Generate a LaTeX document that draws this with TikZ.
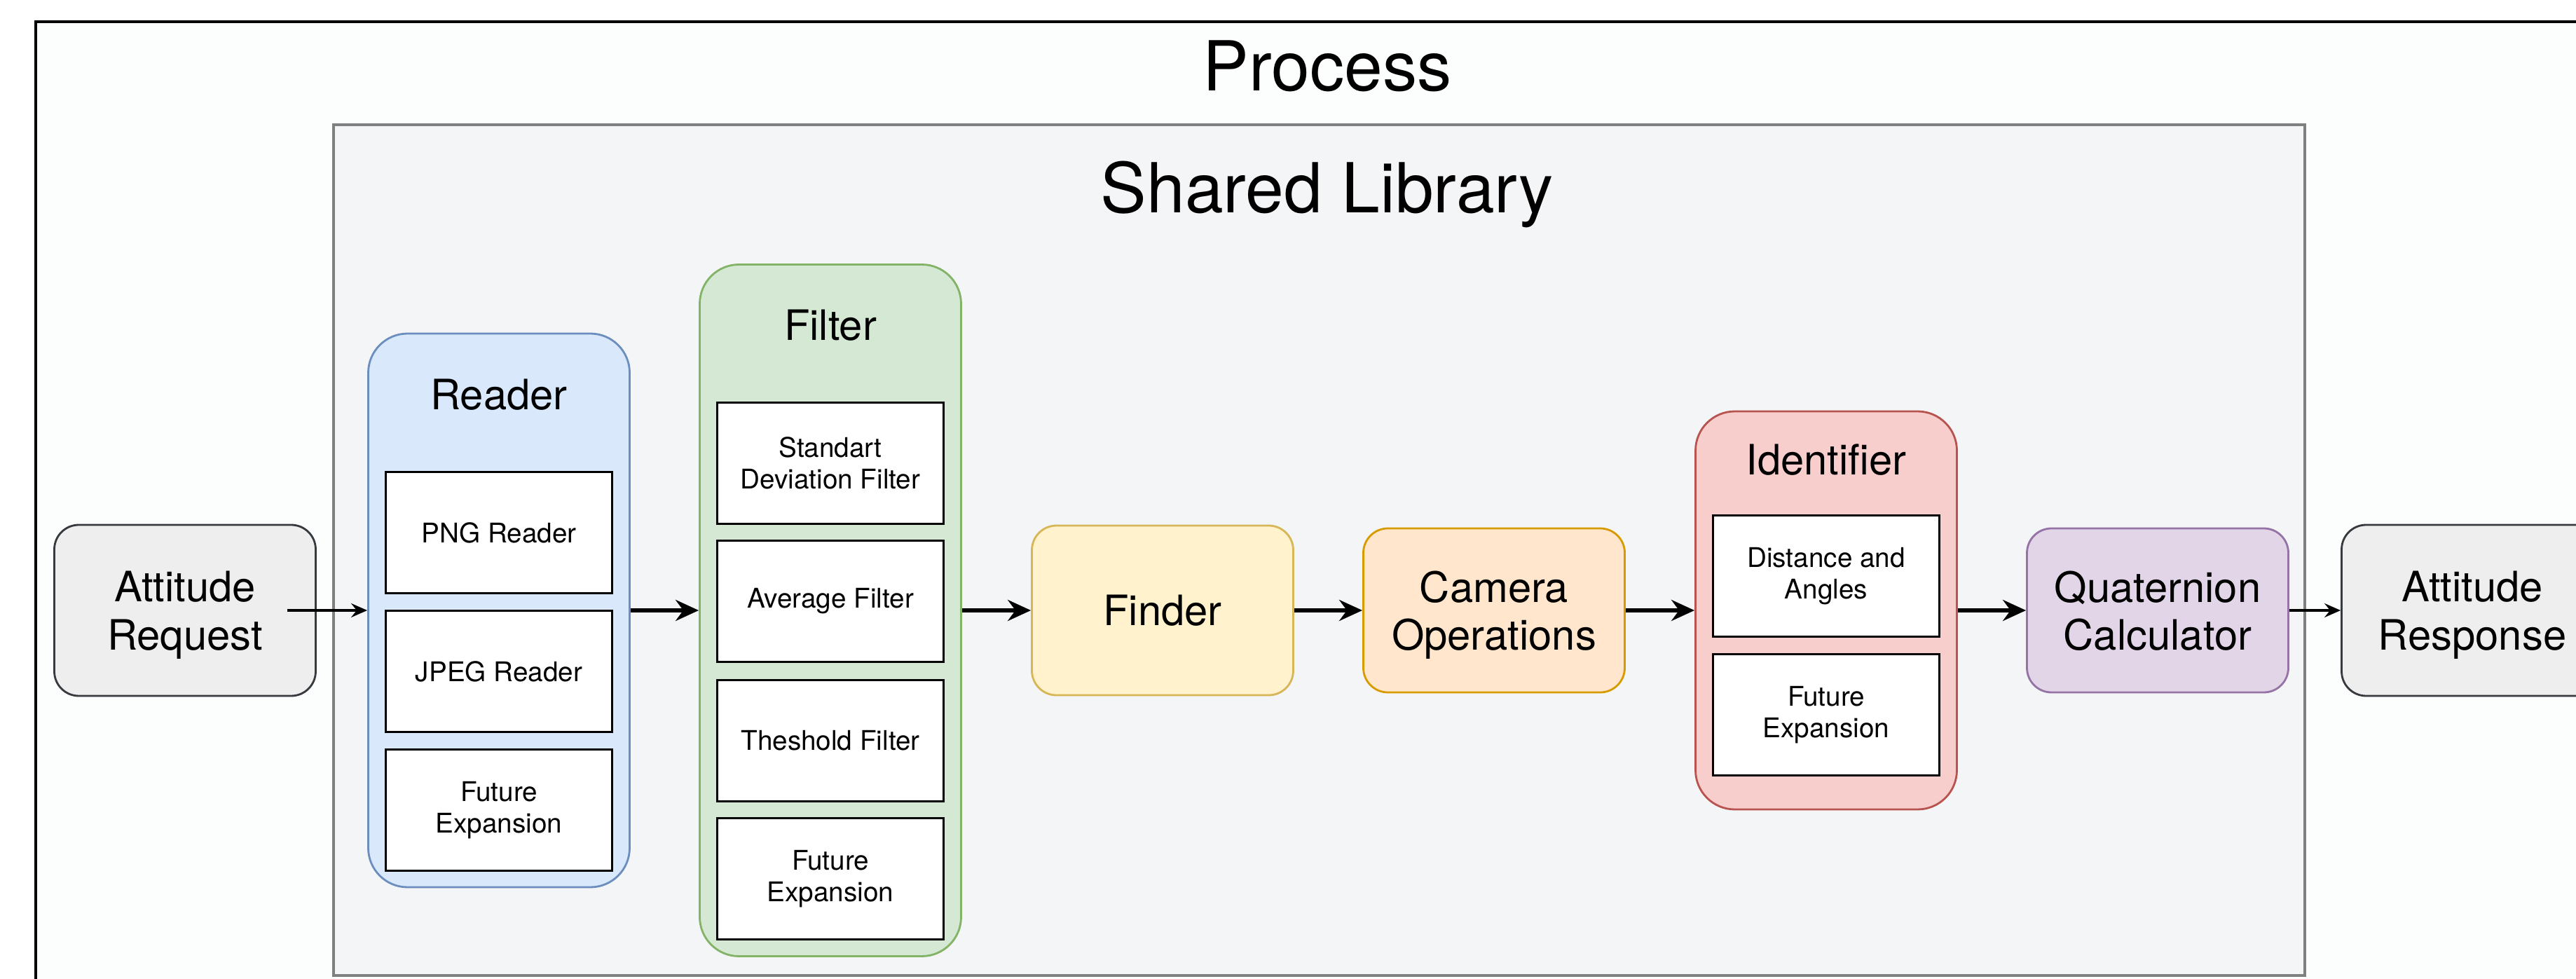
\documentclass[tikz,border=0pt]{standalone}
\usepackage{fontspec}
\setmainfont{TeX Gyre Heros}
\usetikzlibrary{arrows.meta}

\definecolor{procfill}{HTML}{FCFDFD}
\definecolor{libfill}{HTML}{F4F5F6}
\definecolor{libdraw}{HTML}{7F7F7F}
\definecolor{iofill}{HTML}{EEEEEE}
\definecolor{iodraw}{HTML}{36393D}
\definecolor{readfill}{HTML}{DAE8FC}
\definecolor{readdraw}{HTML}{6C8EBF}
\definecolor{filtfill}{HTML}{D5E8D4}
\definecolor{filtdraw}{HTML}{82B366}
\definecolor{findfill}{HTML}{FFF2CC}
\definecolor{finddraw}{HTML}{D6B656}
\definecolor{camfill}{HTML}{FFE6CC}
\definecolor{camdraw}{HTML}{D79B00}
\definecolor{idfill}{HTML}{F8CECC}
\definecolor{iddraw}{HTML}{B85450}
\definecolor{quatfill}{HTML}{E1D5E7}
\definecolor{quatdraw}{HTML}{9673A6}

\begin{document}
\begin{tikzpicture}[
  stage/.style={rectangle, rounded corners=3.5mm, draw, line width=0.8pt, minimum width=3.73cm, minimum height=2.4cm, align=center, text depth=0pt, font=\fontsize{17}{19.5}\selectfont},
  group/.style={rectangle, rounded corners=5.6mm, draw, line width=0.8pt, minimum width=3.73cm},
  part/.style={rectangle, draw=black, fill=white, line width=0.9pt, minimum width=3.23cm, minimum height=1.73cm, align=center, font=\fontsize{11}{13}\selectfont},
  gtitle/.style={font=\fontsize{17}{19.5}\selectfont},
  bigtitle/.style={font=\fontsize{28}{32}\selectfont},
  flow/.style={-{Stealth[length=2.3mm,width=2mm,inset=0.8mm]}, line width=0.9pt},
  mainflow/.style={-{Stealth[length=3.3mm,width=3mm,inset=1.1mm]}, line width=1.9pt}
]
  \useasboundingbox (0,0) rectangle (36.76,13.96);
  \clip (0,0) rectangle (36.76,13.96);

  % Process and shared library frames
  \draw[line width=1pt, fill=procfill] (0.51,13.65) rectangle (38,-1);
  \node[bigtitle] (proctitle) at (18.94,13.02) {Process};
  \draw[line width=1pt, draw=libdraw, fill=libfill] (4.76,12.18) rectangle (32.89,0.04);
  \node[bigtitle] (libtitle) at (18.94,11.19) {Shared Library};

  % Request and response
  \node[stage, fill=iofill, draw=iodraw, minimum height=2.44cm] (req) at (2.64,5.25) {Attitude\\Request};
  \node[stage, fill=iofill, draw=iodraw, minimum height=2.44cm] (resp) at (35.28,5.25) {Attitude\\Response};

  % Reader
  \node[group, fill=readfill, draw=readdraw, minimum height=7.9cm] (reader) at (7.12,5.25) {};
  \node[gtitle] (readertitle) at (7.12,8.33) {Reader};
  \node[part] (png) at (7.12,6.36) {PNG Reader};
  \node[part] (jpeg) at (7.12,4.38) {JPEG Reader};
  \node[part] (rfuture) at (7.12,2.40) {Future\\Expansion};

  % Filter
  \node[group, fill=filtfill, draw=filtdraw, minimum height=9.87cm] (filter) at (11.85,5.25) {};
  \node[gtitle] (filtertitle) at (11.85,9.32) {Filter};
  \node[part] (stddev) at (11.85,7.35) {Standart\\Deviation Filter};
  \node[part] (average) at (11.85,5.38) {Average Filter};
  \node[part] (thresh) at (11.85,3.39) {Theshold Filter};
  \node[part] (ffuture) at (11.85,1.42) {Future\\Expansion};

  % Finder and camera
  \node[stage, fill=findfill, draw=finddraw, minimum height=2.42cm] (finder) at (16.59,5.25) {Finder};
  \node[stage, fill=camfill, draw=camdraw, minimum height=2.34cm] (camera) at (21.32,5.25) {Camera\\Operations};

  % Identifier
  \node[group, fill=idfill, draw=iddraw, minimum height=5.68cm] (ident) at (26.06,5.25) {};
  \node[gtitle] (identtitle) at (26.06,7.40) {Identifier};
  \node[part] (dist) at (26.06,5.74) {Distance and\\Angles};
  \node[part] (ifuture) at (26.06,3.76) {Future\\Expansion};

  % Quaternion
  \node[stage, fill=quatfill, draw=quatdraw, minimum height=2.34cm] (quat) at (30.79,5.25) {Quaternion\\Calculator};

  % Flow
  \draw[flow] ([xshift=-4.2mm]req.east) -- (reader.west);
  \draw[mainflow] (reader.east) -- (filter.west);
  \draw[mainflow] (filter.east) -- (finder.west);
  \draw[mainflow] (finder.east) -- (camera.west);
  \draw[mainflow] (camera.east) -- (ident.west);
  \draw[mainflow] (ident.east) -- (quat.west);
  \draw[flow] (quat.east) -- (resp.west);
\end{tikzpicture}
\end{document}
